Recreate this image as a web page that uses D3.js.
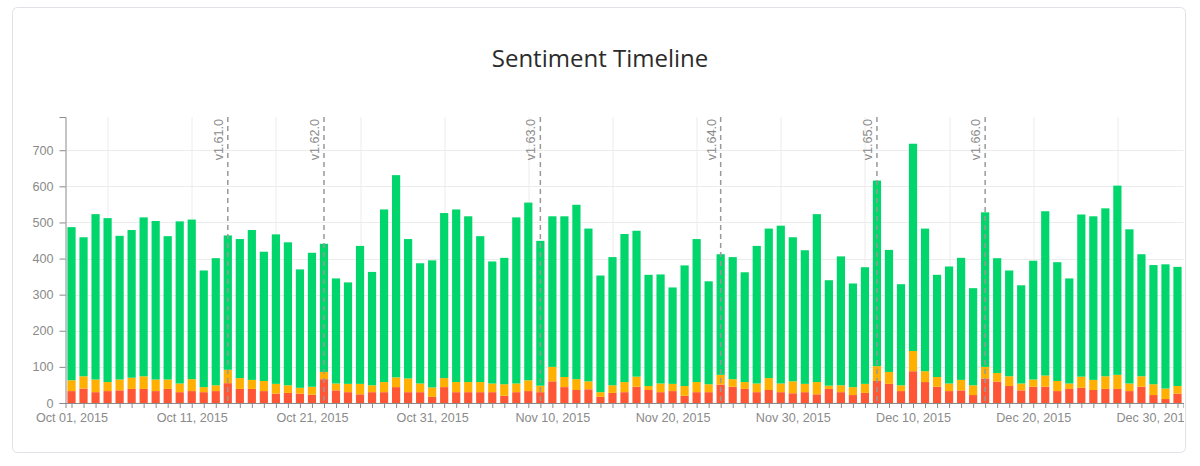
<!DOCTYPE html>
<html>
<head>
<meta charset="utf-8">
<script src="https://cdn.jsdelivr.net/npm/d3@7"></script>
<style>
  body { margin: 0; background: #fff; }
  svg { display: block; }
  .axis text { font-family: "Liberation Sans", Arial, sans-serif; font-size: 12.6px; fill: #8a8a8a; }
  .axis path, .axis line { stroke: #8a8a8a; }
</style>
</head>
<body>
<div id="chart"></div>
<script>
// one bar per day, Oct 01 2015 .. Jan 01 2016
const startDay = new Date(2015, 9, 1);

const negative = [33,40,30,33,35,39,39,33,39,30,33,30,33,55,39,39,33,26,28,26,23,66,35,30,24,30,30,44,30,30,
  17,44,30,30,30,30,20,30,33,30,60,44,36,38,17,28,30,45,36,30,33,20,30,30,51,45,39,30,36,30,
  27,30,24,39,30,22,28,61,53,33,88,58,45,33,35,22,68,59,47,35,45,45,33,39,42,36,39,39,33,45,
  22,11,26];

const neutral = [30,34,35,25,30,31,35,32,26,24,33,14,16,37,30,25,28,27,21,16,22,20,19,23,29,19,28,27,38,24,
  26,25,28,28,28,24,32,24,30,18,40,28,30,22,13,21,28,28,11,24,20,27,28,22,27,21,19,24,33,24,
  33,23,34,9,19,22,25,41,33,16,56,30,27,21,29,27,32,24,27,19,20,31,28,15,31,28,35,39,21,29,
  30,29,21];

const positive = [424,385,458,454,398,409,440,439,397,449,442,323,352,372,385,415,358,414,396,328,371,355,291,281,382,314,478,560,386,333,
  352,457,478,459,404,338,350,460,492,401,417,445,483,423,323,355,410,404,308,302,267,334,396,285,334,338,304,381,414,437,
  399,370,465,292,357,287,323,514,338,280,574,395,283,324,338,269,428,318,293,272,329,455,329,291,449,453,465,524,427,338,
  330,344,330];

const releaseDates = ["2015-10-14", "2015-10-22", "2015-11-09", "2015-11-24", "2015-12-07", "2015-12-16"];
const releaseLabels = ["v1.61.0", "v1.62.0", "v1.63.0", "v1.64.0", "v1.65.0", "v1.66.0"];

const keys = ["negative", "neutral", "positive"];
const colors = { negative: "#ff5736", neutral: "#ffb000", positive: "#00d66b" };

const W = 1200, H = 466;
const margin = { top: 117, right: 16.5, bottom: 63, left: 65.5 };
const plotW = W - margin.left - margin.right,
      plotH = H - margin.top - margin.bottom;

const rows = negative.map((v, i) => ({
    date: d3.timeDay.offset(startDay, i),
    negative: v,
    neutral: neutral[i],
    positive: positive[i]
}));

const parseDay = d3.timeParse("%Y-%m-%d");
const releases = releaseDates.map((d, i) => ({ date: parseDay(d), label: releaseLabels[i] }));

const svg = d3.select("#chart").append("svg")
    .attr("width", W)
    .attr("height", H);

// card
svg.append("rect")
    .attr("x", 12.5).attr("y", 7.5)
    .attr("width", 1173).attr("height", 445)
    .attr("rx", 5)
    .attr("fill", "#fff")
    .attr("stroke", "#dfe3e7");

svg.append("text")
    .attr("x", 600).attr("y", 67)
    .attr("text-anchor", "middle")
    .style("font-family", "'Open Sans', sans-serif")
    .style("font-size", "24px")
    .style("fill", "#2b2b2b")
    .text("Sentiment Timeline");

svg.append("clipPath").attr("id", "clip-axis")
    .append("rect")
    .attr("x", -margin.left).attr("y", -5)
    .attr("width", margin.left + plotW + 0.5).attr("height", 60);

const g = svg.append("g")
    .attr("transform", `translate(${margin.left},${margin.top})`);

const x = d3.scaleTime()
    .domain([d3.timeHour.offset(rows[0].date, -12), d3.timeHour.offset(rows[rows.length - 1].date, 12)])
    .range([0, plotW]);

const y = d3.scaleLinear()
    .domain([0, 792])
    .range([plotH, 0]);

// grid
g.append("g")
    .selectAll("line")
    .data(y.ticks(8).filter(d => d > 0))
    .join("line")
    .attr("x1", 0).attr("x2", plotW)
    .attr("y1", d => Math.round(y(d)) + 0.5).attr("y2", d => Math.round(y(d)) + 0.5)
    .attr("stroke", "#ececec");

g.append("g")
    .selectAll("line")
    .data(d3.timeWeek.range(x.domain()[0], x.domain()[1]))
    .join("line")
    .attr("x1", d => Math.round(x(d)) + 0.5).attr("x2", d => Math.round(x(d)) + 0.5)
    .attr("y1", 0).attr("y2", plotH)
    .attr("stroke", "#ececec");

// bars
const stacked = d3.stack().keys(keys)(rows);
const barW = 8.2;

g.append("g")
    .selectAll("g")
    .data(stacked)
    .join("g")
    .attr("fill", s => colors[s.key])
    .selectAll("rect")
    .data(s => s)
    .join("rect")
    .attr("x", d => x(d.data.date) - barW / 2)
    .attr("width", barW)
    .attr("y", d => y(d[1]))
    .attr("height", d => y(d[0]) - y(d[1]));

// release markers
const rel = g.append("g")
    .selectAll("g")
    .data(releases)
    .join("g")
    .attr("transform", d => `translate(${x(d.date)},0)`);

rel.append("line")
    .attr("y1", 0).attr("y2", plotH)
    .attr("stroke", "#999")
    .attr("stroke-width", 1.5)
    .attr("stroke-dasharray", "5,4");

rel.append("text")
    .attr("transform", "translate(-5,2) rotate(-90)")
    .attr("text-anchor", "end")
    .style("font-family", "'Liberation Sans', Arial, sans-serif")
    .style("font-size", "12.6px")
    .style("fill", "#8a8a8a")
    .text(d => d.label);

// axes
const fmt = d3.timeFormat("%b %d, %Y");

g.append("g")
    .attr("class", "axis")
    .attr("transform", `translate(0,${plotH})`)
    .attr("clip-path", "url(#clip-axis)")
    .call(d3.axisBottom(x)
        .ticks(d3.timeDay.every(1))
        .tickSize(5)
        .tickPadding(5)
        .tickFormat(d => d3.timeDay.count(startDay, d) % 10 === 0 ? fmt(d) : ""));

g.append("g")
    .attr("class", "axis")
    .call(d3.axisLeft(y)
        .ticks(8)
        .tickSize(6)
        .tickPadding(6));
</script>
</body>
</html>
